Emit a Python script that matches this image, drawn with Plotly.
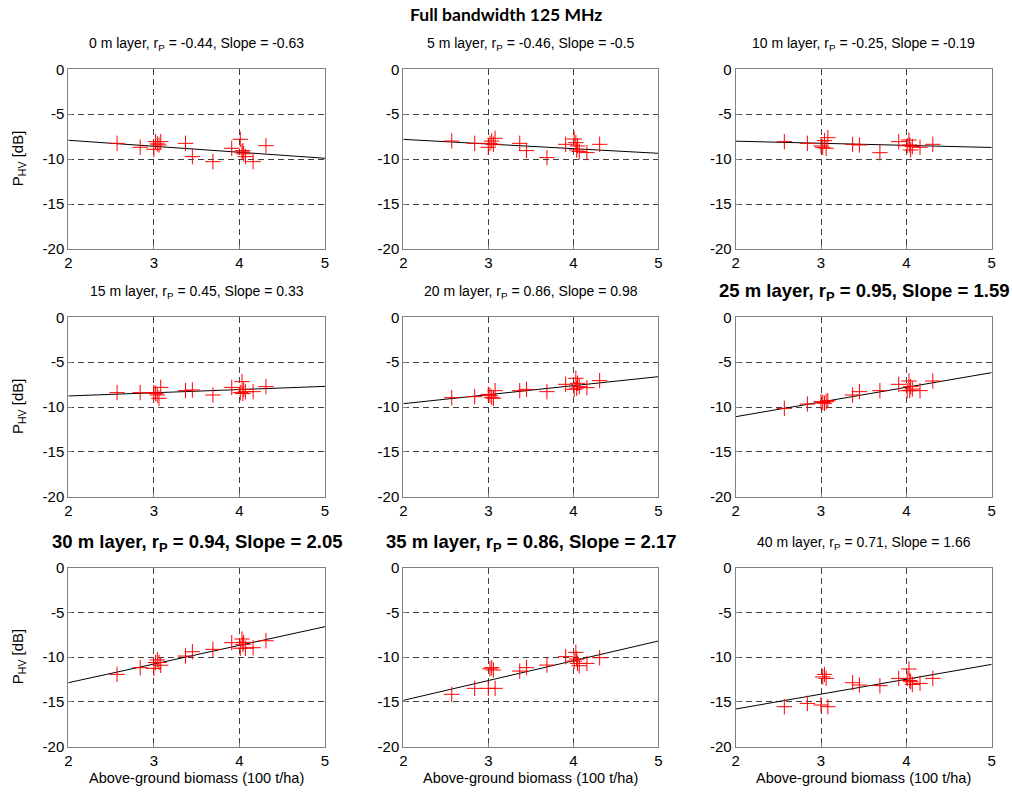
import plotly.graph_objects as go

# ---------------- data ----------------
biomass = [2.57, 2.84, 3.00, 3.02, 3.04, 3.06, 3.08, 3.37, 3.45, 3.69, 3.91, 4.01, 4.03, 4.04, 4.05, 4.07, 4.16, 4.31]

layers = ["0", "5", "10", "15", "20", "25", "30", "35", "40"]
r_p = ["-0.44", "-0.46", "-0.25", "0.45", "0.86", "0.95", "0.94", "0.86", "0.71"]
slopes = ["-0.63", "-0.5", "-0.19", "0.33", "0.98", "1.59", "2.05", "2.17", "1.66"]
bold_panel = [False, False, False, False, False, True, True, True, False]

p_hv_0m = [-8.24, -8.68, -8.9, -8.05, -8.3, -8.42, -8.05, -8.24, -9.72, -10.28, -8.79, -7.79, -9.2, -9.05, -9.4, -9.72, -10.28, -8.5]
p_hv_5m = [-7.98, -8.24, -8.68, -8.24, -7.98, -8.35, -7.68, -8.24, -9.05, -9.83, -8.35, -7.76, -8.16, -8.98, -8.53, -9.16, -9.27, -8.35]
p_hv_10m = [-8.05, -8.24, -8.53, -8.68, -7.94, -8.79, -7.61, -8.35, -8.42, -9.28, -8.05, -8.5, -7.87, -8.42, -8.98, -8.6, -8.68, -8.35]
p_hv_15m = [-8.4, -8.4, -8.4, -8.5, -8.66, -9.03, -7.81, -8.18, -8.1, -8.66, -7.81, -8.4, -7.17, -8.5, -8.03, -8.3, -8.29, -7.73]
p_hv_20m = [-8.96, -8.85, -8.59, -8.7, -8.92, -9.03, -8.18, -8.18, -8.03, -8.29, -7.47, -8.03, -6.8, -7.9, -7.36, -7.73, -7.84, -7.06]
p_hv_25m = [-10.15, -9.67, -9.4, -9.5, -9.59, -9.4, -9.29, -8.66, -8.29, -8.18, -7.47, -8.18, -7.1, -8.18, -7.73, -8.0, -8.18, -7.1]
p_hv_30m = [-11.92, -11.17, -11.25, -10.6, -10.3, -10.6, -10.9, -9.87, -9.39, -9.12, -8.38, -9.0, -7.97, -8.6, -8.34, -9.0, -8.94, -8.16]
p_hv_35m = [-14.15, -13.48, -13.48, -11.3, -11.17, -11.43, -13.48, -11.55, -11.17, -10.88, -9.94, -10.43, -9.46, -10.2, -10.69, -10.95, -10.69, -10.06]
p_hv_40m = [-15.53, -15.16, -15.34, -12.2, -11.92, -12.37, -15.53, -12.85, -13.11, -13.18, -12.37, -12.37, -11.32, -12.6, -12.74, -13.04, -12.93, -12.37]
p_hv = [p_hv_0m, p_hv_5m, p_hv_10m, p_hv_15m, p_hv_20m, p_hv_25m, p_hv_30m, p_hv_35m, p_hv_40m]

fit_x = [2, 5]
fit_start = [-7.9, -7.8, -8.0, -8.77, -9.63, -11.08, -12.85, -14.82, -15.79]
fit_end = [-9.9, -9.35, -8.7, -7.7, -6.62, -6.17, -6.59, -8.19, -10.8]

x_ticks = [2, 3, 4, 5]
x_tick_labels = ["2", "3", "4", "5"]
y_ticks = [0, -5, -10, -15, -20]
y_tick_labels = ["0", "-5", "-10", "-15", "-20"]

# ---------------- layout geometry ----------------
W, H = 1012, 793
col_px = [(68.3, 325.0), (403.3, 658.3), (735.7, 991.7)]
row_px = [(69.3, 249.0), (317.3, 496.7), (567.7, 746.7)]

fig = go.Figure()
annotations = []
for i in range(9):
    r, c = divmod(i, 3)
    n = i + 1
    xa = "x" if n == 1 else f"x{n}"
    ya = "y" if n == 1 else f"y{n}"
    x0, x1 = col_px[c]
    yt, yb = row_px[r]
    fig.add_trace(go.Scatter(
        x=fit_x, y=[fit_start[i], fit_end[i]], mode="lines",
        line=dict(color="black", width=1), xaxis=xa, yaxis=ya, showlegend=False))
    fig.add_trace(go.Scatter(
        x=biomass, y=p_hv[i], mode="markers",
        marker=dict(symbol="cross-thin", size=11, color="red",
                    line=dict(color="red", width=1)),
        xaxis=xa, yaxis=ya, showlegend=False))
    axcommon = dict(showline=True, mirror=True, linecolor="#808080", linewidth=1,
                    showgrid=True, gridcolor="#404040", griddash="6px,4px", gridwidth=1,
                    zeroline=False, ticks="inside", ticklen=4, tickcolor="#808080",
                    automargin=False,
                    tickfont=dict(family="Liberation Sans", size=15, color="black"))
    fig.update_layout(**{
        ("xaxis" if n == 1 else f"xaxis{n}"): dict(
            domain=[x0 / W, x1 / W], range=[2, 5], tickvals=x_ticks,
            ticktext=x_tick_labels, anchor=ya, **axcommon),
        ("yaxis" if n == 1 else f"yaxis{n}"): dict(
            domain=[1 - yb / H, 1 - yt / H], range=[-20, 0], tickvals=y_ticks,
            ticktext=y_tick_labels, anchor=xa, **axcommon),
    })
    title = f"{layers[i]} m layer, r<sub>P</sub> = {r_p[i]}, Slope = {slopes[i]}"
    if bold_panel[i]:
        font = dict(family="Liberation Sans", size=18.5, color="black")
        title = f"<b>{title}</b>"
    else:
        font = dict(family="Liberation Sans", size=14, color="black")
    annotations.append(dict(
        text=title, x=(x0 + x1) / 2 / W, y=1 - (yt - 25) / H,
        xref="paper", yref="paper", xanchor="center", yanchor="middle",
        showarrow=False, font=font))
    if c == 0:
        annotations.append(dict(
            text="P<sub>HV</sub> [dB]", x=18 / W, y=1 - (yt + yb) / 2 / H,
            xref="paper", yref="paper", xanchor="center", yanchor="middle",
            textangle=-90, showarrow=False,
            font=dict(family="Liberation Sans", size=15, color="black")))
    if r == 2:
        annotations.append(dict(
            text="Above-ground biomass (100 t/ha)", x=(x0 + x1) / 2 / W, y=1 - 778 / H,
            xref="paper", yref="paper", xanchor="center", yanchor="middle",
            showarrow=False,
            font=dict(family="Liberation Sans", size=14.5, color="black")))

annotations.append(dict(
    text="<b>Full bandwidth 125 MHz</b>", x=0.5, y=1 - 15 / H,
    xref="paper", yref="paper", xanchor="center", yanchor="middle",
    showarrow=False, font=dict(family="Lato", size=17.5, color="black")))

fig.update_layout(
    width=W, height=H, margin=dict(l=0, r=0, t=0, b=0, autoexpand=False),
    paper_bgcolor="white", plot_bgcolor="white",
    annotations=annotations, showlegend=False)

fig.write_html(
    "out.html",
    config={"displayModeBar": False},
    post_script="document.body.style.margin='0';document.body.style.padding='0';"
                "document.body.style.overflow='hidden';")
